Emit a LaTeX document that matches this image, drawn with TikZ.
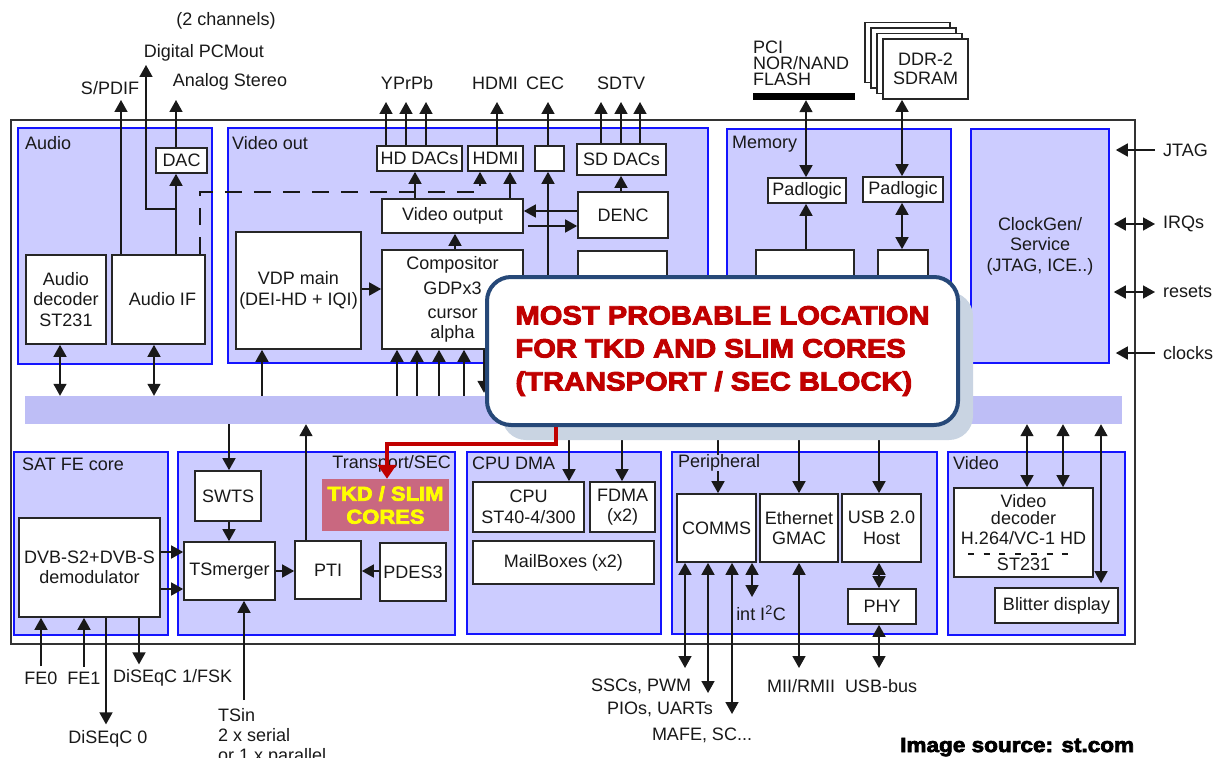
\documentclass[tikz,border=0pt]{standalone}
\usepackage{fontspec}
\setmainfont{Liberation Sans}
\newfontfamily\heavyfont{Liberation Sans Bold}[FakeBold=3.5,FakeStretch=1.1]
\usetikzlibrary{arrows.meta,fit}
\definecolor{blkfill}{RGB}{204,204,255}
\definecolor{blkline}{RGB}{20,20,255}
\definecolor{busfill}{RGB}{190,190,246}
\definecolor{txt}{RGB}{25,25,25}
\definecolor{callred}{RGB}{192,0,0}
\definecolor{callblue}{RGB}{38,72,120}
\definecolor{shadowc}{RGB}{201,212,226}
\definecolor{tkdfill}{RGB}{201,104,128}
\definecolor{tkdtext}{RGB}{255,255,0}
\begin{document}
\begin{tikzpicture}[x=1pt,y=-1pt,
  >={Triangle[length=12pt,width=13pt]},
  every node/.style={font=\fontsize{18}{20.5}\selectfont, text=txt},
  blk/.style={draw=blkline, fill=blkfill, line width=1.6pt, inner sep=0pt},
  wbox/.style={draw=black!85, fill=white, line width=1.7pt, inner sep=0pt},
  lbl/.style={inner sep=0pt, align=center},
  intext/.style={label={[lbl]center:{#1}}},
  arr/.style={draw=black!90, line width=1.6pt, ->},
  darr/.style={draw=black!90, line width=1.6pt, <->},
  dsh/.style={draw=black!90, line width=1.6pt, dash pattern=on 17pt off 12pt},
]
\useasboundingbox (0,0) rectangle (1222,757);
\clip (0,0) rectangle (1222,757);
\fill[white] (0,0) rectangle (1222,757);

% chip outline
\draw[draw=black!80, line width=1.6pt] (11,120) rectangle (1135,644);

% functional blocks
\node[blk, fit={(18,128) (212,364)}] (audio) {};
\node[blk, fit={(228,128) (708,363)}] (vout) {};
\node[blk, fit={(727,129) (951,363)}] (mem) {};
\node[blk, fit={(971,129) (1109,363)}, intext={ClockGen/\\Service\\(JTAG, ICE..)}] (clk) {};
\node[fill=busfill, inner sep=0pt, fit={(25,396) (1122,424)}] (bus) {};
\node[blk, fit={(14,452) (168,635)}] (satfe) {};
\node[blk, fit={(178,452) (455,635)}] (tsec) {};
\node[blk, fit={(467,452) (661,634)}] (cpudma) {};
\node[blk, fit={(672,452) (937,634)}] (peri) {};
\node[blk, fit={(948,452) (1125,635)}] (video) {};

% audio
\node[wbox, fit={(26,255) (106,344)}, intext={Audio\\decoder\\ST231}] (adec) {};
\node[wbox, fit={(112,255) (205,344)}, intext={\hspace*{8pt}Audio IF}] (aif) {};
\node[wbox, fit={(156,148) (207,173)}, intext={DAC}] (dac) {};

% video out
\node[wbox, fit={(377,146) (462,171)}, intext={HD DACs}] (hddac) {};
\node[wbox, fit={(468,146) (523,171)}, intext={HDMI}] (hdmi) {};
\node[wbox, fit={(535,146) (564,171)}] (cec) {};
\node[wbox, fit={(577,144) (666,175)}, intext={SD DACs}] (sddac) {};
\node[wbox, fit={(382,199) (523,233)}, intext={Video output}] (vo) {};
\node[wbox, fit={(578,192) (668,238)}, intext={DENC}] (denc) {};
\node[wbox, fit={(382,250) (523,349)}, intext={Compositor\\[5pt]GDPx3\\[3pt]cursor\\alpha}] (comp) {};
\node[wbox, fit={(236,232) (361,349)}, intext={VDP main\\(DEI-HD + IQI)}] (vdp) {};
\node[wbox, fit={(578,251) (667,349)}] (dencb) {};

% memory
\node[wbox, fit={(768,178) (846,203)}, intext={Padlogic}] (pad1) {};
\node[wbox, fit={(863,177) (943,202)}, intext={Padlogic}] (pad2) {};
\node[wbox, fit={(756,250) (854,349)}] (mema) {};
\node[wbox, fit={(878,250) (928,349)}] (memb) {};
\node[fill=black, inner sep=0pt, fit={(753,93) (855,100)}] (pcibar) {};
\node[lbl, anchor=west, align=left, font=\fontsize{18}{17}\selectfont] (lpci) at (753,63) {PCI\\[-1pt]NOR/NAND\\[-1pt]FLASH};
\foreach \k in {3,2,1}
  \draw[fill=white, draw=black!85, line width=1.7pt] ({883-6*\k},{39-5.5*\k}) rectangle ({968-6*\k},{99-5.5*\k});
\node[wbox, fit={(883,39) (968,99)}, label={[lbl, font=\fontsize{18}{19}\selectfont]center:{DDR-2\\SDRAM}}] (ddr) {};

% SAT FE / transport
\node[wbox, fit={(195,471) (261,521)}, intext={SWTS}] (swts) {};
\node[wbox, fit={(184,542) (275,600)}, intext={TSmerger}] (tsm) {};
\node[wbox, fit={(295,541) (361,599)}, intext={PTI}] (pti) {};
\node[wbox, fit={(380,543) (446,601)}, intext={PDES3}] (pdes) {};
\node[wbox, fit={(19,518) (160,617)}, intext={DVB-S2+DVB-S\\demodulator}] (dvb) {};
\node[fill=tkdfill, inner sep=0pt, fit={(322,479) (449,531)},
      label={[lbl, font=\heavyfont\fontsize{20}{23}\selectfont, text=tkdtext]center:{TKD / SLIM\\CORES}}] (tkd) {};

% CPU DMA
\node[wbox, fit={(473,482) (584,532)}, intext={CPU\\ST40-4/300}] (cpu) {};
\node[wbox, fit={(590,482) (655,532)}, intext={FDMA\\(x2)}] (fdma) {};
\node[wbox, fit={(473,541) (654,584)}, intext={MailBoxes (x2)}] (mbox) {};

% peripheral
\node[wbox, fit={(677,494) (756,562)}, intext={COMMS}] (comms) {};
\node[wbox, fit={(760,494) (838,562)}, intext={Ethernet\\GMAC}] (eth) {};
\node[wbox, fit={(842,494) (921,562)}, intext={USB 2.0\\Host}] (usb) {};
\node[wbox, fit={(848,589) (916,624)}, intext={PHY}] (phy) {};

% video
\node[wbox, fit={(954,488) (1093,577)}, intext={Video\\[-3.5pt]decoder\\H.264/VC-1 HD\\[5pt]ST231}] (vdec) {};
\draw[draw=black!90, line width=1.3pt, dash pattern=on 6pt off 9.7pt] (968,554) -- (1072,554);
\node[wbox, fit={(995,588) (1118,623)}, intext={Blitter display}] (blit) {};

% ---- outside labels ----
\node[lbl] (l2ch) at (226,21) {(2 channels)};
\node[lbl] (lpcm) at (204,53) {Digital PCMout};
\node[lbl] (lspdif) at (110,88) {S/PDIF};
\node[lbl] (lana) at (230,82) {Analog Stereo};
\node[lbl] (lypbpr) at (407,83) {YPrPb};
\node[lbl] (lhdmi) at (495,83) {HDMI};
\node[lbl] (lcec) at (545,83) {CEC};
\node[lbl] (lsdtv) at (621,83) {SDTV};
\node[lbl, anchor=west] (jtag) at (1163,150) {JTAG};
\node[lbl, anchor=west] (irq) at (1163,224) {IRQs};
\node[lbl, anchor=west] (rst) at (1163,292) {resets};
\node[lbl, anchor=west] (clks) at (1163,353) {clocks};
\node[lbl] (lfe0) at (41,678) {FE0};
\node[lbl] (lfe1) at (84,678) {FE1};
\node[lbl, anchor=west] (ldis1) at (113,678) {DiSEqC 1/FSK};
\node[lbl] (ldis0) at (108,739) {DiSEqC 0};
\node[lbl, anchor=north west, align=left, font=\fontsize{18}{20}\selectfont] (ltsin) at (218,708) {TSin\\2 x serial\\or 1 x parallel};
\node[lbl] (lssc) at (641,686) {SSCs, PWM};
\node[lbl] (lpio) at (660,709) {PIOs, UARTs};
\node[lbl] (lmafe) at (702,735) {MAFE, SC...};
\node[lbl] (li2c) at (761,613) {int I\textsuperscript{2}C};
\node[lbl] (lmii) at (801,686) {MII/RMII};
\node[lbl] (lusbb) at (881,686) {USB-bus};

% free ends
\coordinate (spdifE) at (121,100);
\coordinate (pcmE) at (146,65);
\coordinate (anaE) at (176,100);
\coordinate (hdmiE) at (497,102);
\coordinate (cecE) at (548,102);
\coordinate (c1) at (685,668);
\coordinate (c2) at (708,693);
\coordinate (c3) at (732,714);
\coordinate (c4) at (752,597);
\coordinate (miiE) at (799,668);
\coordinate (usbE) at (879,668);

% ---- audio connectors ----
\draw[arr] (aif.north -| spdifE) -- (spdifE);
\draw[arr] (aif.north -| anaE) -- (dac.south -| anaE);
\draw[arr] (dac.south -| anaE) ++(0,35) -| (pcmE);
\draw[arr] (dac.north -| anaE) -- (anaE);
\draw[dsh, ->] (aif.north -| 200,0) -- (200,192) -| (hdmi.south -| 480,0);
\draw[darr] (adec.south -| 60,0) -- (bus.north -| 60,0);
\draw[darr] (aif.south -| 154,0) -- (bus.north -| 154,0);

% ---- video out connectors ----
\foreach \x [count=\i] in {386,406,426} {
  \coordinate (yp\i) at (\x,102);
  \draw[arr] (hddac.north -| yp\i) -- (yp\i);
}
\foreach \x [count=\i] in {601,621,640} {
  \coordinate (sd\i) at (\x,102);
  \draw[arr] (sddac.north -| sd\i) -- (sd\i);
}
\draw[arr] (hdmi.north -| hdmiE) -- (hdmiE);
\draw[arr] (cec.north -| cecE) -- (cecE);
\draw[arr] (bus.north -| cecE) -- (cec.south -| cecE);
\draw[arr] (vo.north -| 415,0) -- (hddac.south -| 415,0);
\draw[arr] (vo.north -| 510,0) -- (hdmi.south -| 510,0);
\draw[arr] (denc.north -| 621,0) -- (sddac.south -| 621,0);
\draw[arr] (denc.west |- 0,211) -- (vo.east |- 0,211);
\draw[arr, shorten <=4pt] (vo.east |- 0,226) -- (denc.west |- 0,226);
\draw[arr] (comp.north -| 455,0) -- (vo.south -| 455,0);
\draw[arr] (vdp.east |- 0,289) -- (comp.west |- 0,289);
\draw[arr] (bus.north -| 262,0) -- (vdp.south -| 262,0);
\foreach \x in {397,417,439,464}
  \draw[arr] (bus.north -| \x,0) -- (comp.south -| \x,0);
\draw[arr, shorten >=3pt] (comp.south -| 484,0) -- (bus.north -| 484,0);

% ---- memory connectors ----
\draw[darr] (pcibar.south -| 806,0) -- (pad1.north -| 806,0);
\draw[arr] (mema.north -| 806,0) -- (pad1.south -| 806,0);
\draw[darr] (ddr.south -| 902,0) -- (pad2.north -| 902,0);
\draw[darr] (pad2.south -| 902,0) -- (memb.north -| 902,0);

% ---- service connectors ----
\draw[arr, shorten <=8pt, shorten >=6pt] (jtag.west) -- (jtag.west -| clk.east);
\draw[darr, shorten <=8pt, shorten >=4pt] (irq.west) -- (irq.west -| clk.east);
\draw[darr, shorten <=8pt, shorten >=4pt] (rst.west) -- (rst.west -| clk.east);
\draw[arr, shorten <=8pt, shorten >=6pt] (clks.west) -- (clks.west -| clk.east);

% ---- SAT FE / transport connectors ----
\draw[arr] (bus.south -| 229,0) -- (swts.north -| 229,0);
\draw[arr] (swts.south -| 229,0) -- (tsm.north -| 229,0);
\draw[arr] (pti.north -| 306,0) -- (bus.south -| 306,0);
\draw[arr] (dvb.east |- 0,552) -- (tsm.west |- 0,552);
\draw[arr] (dvb.east |- 0,589) -- (tsm.west |- 0,589);
\draw[arr] (tsm.east |- 0,571) -- (pti.west |- 0,571);
\draw[arr] (pdes.west |- 0,571) -- (pti.east |- 0,571);
\draw[arr, shorten <=5pt] (lfe0.north) -- (dvb.south -| lfe0.north);
\draw[arr, shorten <=5pt] (lfe1.north) -- (dvb.south -| lfe1.north);
\draw[arr, shorten >=6pt] (dvb.south -| 106,0) -- (ldis0.north -| 106,0);
\draw[arr, shorten >=5pt] (dvb.south -| 139,0) -- (ldis1.north -| 139,0);
\draw[arr, shorten <=8pt] (ltsin.north -| 244,0) -- (tsm.south -| 244,0);

% ---- CPU DMA connectors ----
\draw[arr] (bus.south -| 569,0) -- (cpu.north -| 569,0);
\draw[arr] (bus.south -| 622,0) -- (fdma.north -| 622,0);

% ---- peripheral connectors ----
\draw[arr] (bus.south -| 718,0) -- (comms.north -| 718,0);
\draw[arr] (bus.south -| 799,0) -- (eth.north -| 799,0);
\draw[arr] (bus.south -| 879,0) -- (usb.north -| 879,0);
\draw[darr] (comms.south -| c1) -- (c1);
\draw[darr] (comms.south -| c2) -- (c2);
\draw[darr] (comms.south -| c3) -- (c3);
\draw[darr] (comms.south -| c4) -- (c4);
\draw[darr] (eth.south -| miiE) -- (miiE);
\draw[darr] (usb.south -| 879,0) -- (phy.north -| 879,0);
\draw[darr] (phy.south -| usbE) -- (usbE);

% ---- video connectors ----
\draw[darr] (bus.south -| 1027,0) -- (vdec.north -| 1027,0);
\draw[darr] (bus.south -| 1063,0) -- (vdec.north -| 1063,0);
\draw[darr, shorten >=4pt] (bus.south -| 1101,0) -- (blit.north -| 1101,0);

% block titles
\node[lbl, anchor=west] (laudio) at (25,143) {Audio};
\node[lbl, anchor=west] (lvout) at (232,143) {Video out};
\node[lbl, anchor=west] (lmem) at (732,144) {Memory};
\node[lbl, anchor=west] (lsat) at (22,464) {SAT FE core};
\node[lbl, anchor=east] (ltsec) at (451,464) {Transport/SEC};
\node[lbl, anchor=west] (lcpu) at (472,463) {CPU DMA};
\node[lbl, anchor=west, fill=blkfill] (lperi) at (678,463) {Peripheral};
\node[lbl, anchor=west] (lvid) at (953,463) {Video};

% ---- callout ----
\fill[shadowc, rounded corners=24pt] (502,292) rectangle (973,440);
\node[draw=callblue, line width=4pt, fill=white, rounded corners=24pt, inner sep=0pt,
      fit={(487,277) (958,425)},
      label={[lbl, align=left, text=callred, font=\heavyfont\fontsize{26.5}{33}\selectfont]center:{MOST PROBABLE LOCATION\\FOR TKD AND SLIM CORES\\(TRANSPORT / SEC BLOCK)}}] (callout) {};
\draw[draw=callred, line width=4.5pt, -{Triangle[length=14pt,width=18pt]}]
      (callout.south -| 556,0) -- ++(0,17) -| (tkd.north -| 387,0);

\node[anchor=base west, inner sep=0pt, text=black, font=\heavyfont\fontsize{20.5}{22}\selectfont] (src) at (900,752) {Image source: st.com};
\end{tikzpicture}
\end{document}
